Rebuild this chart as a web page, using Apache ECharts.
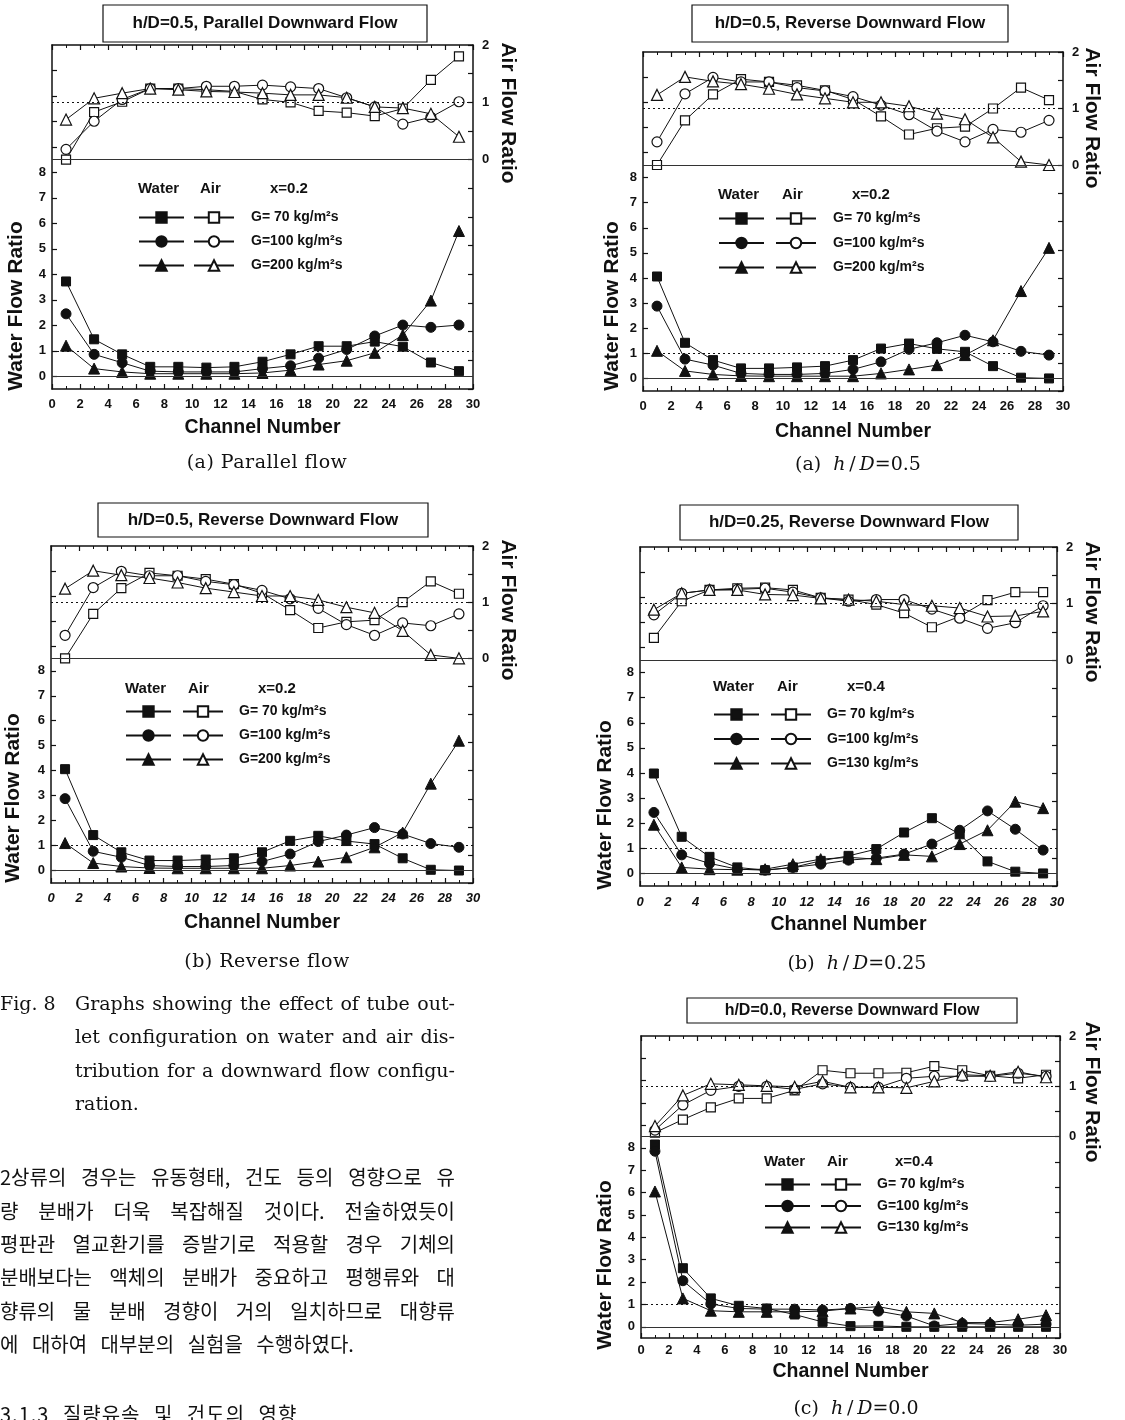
<!DOCTYPE html>
<html>
<head>
<meta charset="utf-8">
<script src="https://cdn.jsdelivr.net/npm/echarts@6/dist/echarts.min.js"></script>
<style>
  html, body { margin: 0; padding: 0; background: #fff; }
  #page { position: relative; width: 1125px; height: 1420px; overflow: hidden; }
  #chart { position: absolute; left: 0; top: 0; width: 1125px; height: 1420px; }
  .cap { position: absolute; font-family: 'DejaVu Serif', serif; font-size: 19px; color: #111;
         white-space: nowrap; transform: translate(-50%, -50%); line-height: 24px; }
  .line { position: absolute; height: 33px; line-height: 33px; color: #111; white-space: normal;
          text-align: justify; text-align-last: justify; }
  .en { font-family: 'DejaVu Serif', serif; font-size: 19px; left: 75px; width: 380px; }
  .ko { font-family: 'Noto Sans CJK KR', sans-serif; font-size: 20px; left: 0; width: 455px; }
</style>
</head>
<body>
<div id="page">
  <div id="chart"></div>

  <div class="cap" style="left:267px; top:461px; letter-spacing:0.5px">(a) Parallel flow</div>
  <div class="cap" style="left:858px; top:463px">(a)&nbsp; <i>h</i>&thinsp;/&thinsp;<i>D</i>=0.5</div>
  <div class="cap" style="left:267px; top:960px; letter-spacing:0.5px">(b) Reverse flow</div>
  <div class="cap" style="left:857px; top:962px">(b)&nbsp; <i>h</i>&thinsp;/&thinsp;<i>D</i>=0.25</div>
  <div class="cap" style="left:856px; top:1407px">(c)&nbsp; <i>h</i>&thinsp;/&thinsp;<i>D</i>=0.0</div>

  <div class="line en" style="left:0; width:60px; top:987px; text-align:left; text-align-last:left">Fig. 8</div>
  <div class="line en" style="top:987px">Graphs showing the effect of tube out-</div>
  <div class="line en" style="top:1020px">let configuration on water and air dis-</div>
  <div class="line en" style="top:1054px">tribution for a downward flow configu-</div>
  <div class="line en" style="top:1087px; text-align:left; text-align-last:left">ration.</div>

  <div class="line ko" style="top:1160px">2상류의 경우는 유동형태, 건도 등의 영향으로 유</div>
  <div class="line ko" style="top:1194px">량 분배가 더욱 복잡해질 것이다. 전술하였듯이</div>
  <div class="line ko" style="top:1227px">평판관 열교환기를 증발기로 적용할 경우 기체의</div>
  <div class="line ko" style="top:1260px">분배보다는 액체의 분배가 중요하고 평행류와 대</div>
  <div class="line ko" style="top:1294px">향류의 물 분배 경향이 거의 일치하므로 대향류</div>
  <div class="line ko" style="top:1327px; text-align:left; text-align-last:left; word-spacing:9px">에 대하여 대부분의 실험을 수행하였다.</div>
  <div class="line ko" style="top:1397px; text-align:left; text-align-last:left; letter-spacing:1px; word-spacing:8px">3.1.3 질량유속 및 건도의 영향</div>
</div>

<script>
const FONT = '"Liberation Sans", Arial, sans-serif';

// channel numbers (x)
const channels = [1, 3, 5, 7, 9, 11, 13, 15, 17, 19, 21, 23, 25, 27, 29];

// legend labels
const gLabels200 = ['G= 70 kg/m²s', 'G=100 kg/m²s', 'G=200 kg/m²s'];
const gLabels130 = ['G= 70 kg/m²s', 'G=100 kg/m²s', 'G=130 kg/m²s'];

// h/D=0.5, parallel downward flow, x=0.2
const parWater70  = [3.72, 1.45, 0.86, 0.37, 0.37, 0.34, 0.37, 0.57, 0.86, 1.18, 1.18, 1.36, 1.16, 0.54, 0.20];
const parWater100 = [2.45, 0.86, 0.53, 0.20, 0.17, 0.17, 0.17, 0.30, 0.41, 0.71, 1.05, 1.58, 2.01, 1.92, 2.01];
const parWater200 = [1.20, 0.30, 0.17, 0.10, 0.10, 0.10, 0.10, 0.13, 0.24, 0.46, 0.61, 0.92, 1.62, 2.97, 5.70];
const parAir70    = [0.00, 0.83, 1.01, 1.24, 1.24, 1.22, 1.19, 1.05, 1.00, 0.85, 0.82, 0.76, 0.89, 1.39, 1.80];
const parAir100   = [0.18, 0.67, 1.05, 1.24, 1.24, 1.28, 1.28, 1.30, 1.27, 1.24, 1.08, 0.92, 0.62, 0.74, 1.01];
const parAir200   = [0.70, 1.07, 1.16, 1.24, 1.22, 1.19, 1.18, 1.16, 1.13, 1.13, 1.08, 0.92, 0.90, 0.80, 0.40];

// h/D=0.5, reverse downward flow, x=0.2 (shown twice)
const rev05Water70  = [4.06, 1.42, 0.73, 0.40, 0.40, 0.44, 0.49, 0.73, 1.19, 1.39, 1.18, 1.06, 0.49, 0.03, 0.00];
const rev05Water100 = [2.88, 0.77, 0.53, 0.20, 0.16, 0.16, 0.20, 0.36, 0.66, 1.16, 1.42, 1.72, 1.46, 1.08, 0.93];
const rev05Water200 = [1.10, 0.30, 0.16, 0.10, 0.09, 0.09, 0.09, 0.09, 0.20, 0.36, 0.53, 0.93, 1.52, 3.48, 5.20];
const rev05Air70    = [0.00, 0.79, 1.25, 1.52, 1.47, 1.41, 1.32, 1.16, 0.86, 0.54, 0.65, 0.68, 1.00, 1.37, 1.15];
const rev05Air100   = [0.41, 1.26, 1.55, 1.47, 1.47, 1.37, 1.31, 1.21, 1.06, 0.89, 0.60, 0.41, 0.63, 0.58, 0.79];
const rev05Air200   = [1.24, 1.56, 1.48, 1.43, 1.35, 1.25, 1.18, 1.11, 1.11, 1.04, 0.91, 0.81, 0.49, 0.06, 0.00];

// h/D=0.25, reverse downward flow, x=0.4
const rev025Water70  = [3.98, 1.46, 0.66, 0.24, 0.13, 0.24, 0.50, 0.70, 0.97, 1.63, 2.20, 1.56, 0.48, 0.07, 0.00];
const rev025Water100 = [2.43, 0.74, 0.40, 0.17, 0.13, 0.24, 0.37, 0.53, 0.61, 0.77, 1.17, 1.72, 2.49, 1.76, 0.93];
const rev025Water130 = [1.94, 0.24, 0.17, 0.15, 0.17, 0.37, 0.57, 0.64, 0.57, 0.74, 0.68, 1.17, 1.72, 2.86, 2.60];
const rev025Air70    = [0.39, 1.04, 1.24, 1.27, 1.28, 1.24, 1.10, 1.07, 0.98, 0.83, 0.58, 0.77, 1.06, 1.20, 1.20];
const rev025Air100   = [0.80, 1.18, 1.24, 1.25, 1.27, 1.20, 1.10, 1.04, 1.07, 1.07, 0.90, 0.74, 0.56, 0.66, 0.96];
const rev025Air130   = [0.89, 1.18, 1.24, 1.24, 1.16, 1.15, 1.09, 1.07, 1.04, 0.98, 0.96, 0.92, 0.77, 0.78, 0.86];

// h/D=0.0, reverse downward flow, x=0.4
const rev00Water70  = [8.15, 2.62, 1.27, 0.94, 0.82, 0.55, 0.22, 0.03, 0.04, 0.00, 0.00, 0.00, 0.00, 0.00, 0.00];
const rev00Water100 = [7.85, 2.06, 1.02, 0.82, 0.79, 0.79, 0.75, 0.82, 0.70, 0.48, 0.04, 0.15, 0.12, 0.07, 0.12];
const rev00Water130 = [6.05, 1.27, 0.72, 0.67, 0.67, 0.67, 0.70, 0.82, 0.90, 0.67, 0.60, 0.19, 0.19, 0.34, 0.52];
const rev00Air70    = [0.08, 0.34, 0.58, 0.76, 0.76, 0.92, 1.32, 1.26, 1.26, 1.27, 1.40, 1.32, 1.21, 1.16, 1.23];
const rev00Air100   = [0.13, 0.63, 0.92, 1.00, 1.00, 0.94, 1.05, 0.98, 0.98, 1.16, 1.20, 1.20, 1.20, 1.26, 1.20];
const rev00Air130   = [0.21, 0.82, 1.05, 1.03, 1.01, 0.99, 1.10, 0.98, 0.98, 0.97, 1.10, 1.23, 1.21, 1.29, 1.18];

const waterTicks = [0, 1, 2, 3, 4, 5, 6, 7, 8, 9, 10, 11, 12];
const waterLabels = [0, 1, 2, 3, 4, 5, 6, 7, 8];
const airLabels = [0, 1, 2];

// panel layout (page pixels)
const panels = [
  { title: 'h/D=0.5, Parallel Downward Flow', quality: 'x=0.2', names: gLabels200,
    water: [parWater70, parWater100, parWater200], air: [parAir70, parAir100, parAir200],
    grid: { left: 52, top: 45, width: 421, height: 344 }, box: [103, 5, 324, 37], titleSize: 17,
    italic: false, labelMargin: 9, nameGap: 29, waterName: [16, 306], airName: [508, 113],
    leg: { waterX: 138, airX: 193, textX: 250, airHeadX: 200, qX: 270, headY: 189, rowY: 217, pitch: 23 } },
  { title: 'h/D=0.5, Reverse Downward Flow', quality: 'x=0.2', names: gLabels200,
    water: [rev05Water70, rev05Water100, rev05Water200], air: [rev05Air70, rev05Air100, rev05Air200],
    grid: { left: 643, top: 52, width: 420, height: 339 }, box: [692, 5, 316, 37], titleSize: 17,
    italic: false, labelMargin: 9, nameGap: 31, waterName: [612, 306], airName: [1092, 118],
    leg: { waterX: 718, airX: 775, textX: 832, airHeadX: 782, qX: 852, headY: 195, rowY: 218, pitch: 23.5 } },
  { title: 'h/D=0.5, Reverse Downward Flow', quality: 'x=0.2', names: gLabels200,
    water: [rev05Water70, rev05Water100, rev05Water200], air: [rev05Air70, rev05Air100, rev05Air200],
    grid: { left: 51, top: 546, width: 422, height: 337 }, box: [98, 503, 330, 34], titleSize: 17,
    italic: true, labelMargin: 9, nameGap: 30, waterName: [13, 798], airName: [508, 610],
    leg: { waterX: 125, airX: 182, textX: 238, airHeadX: 188, qX: 258, headY: 689, rowY: 711, pitch: 23 } },
  { title: 'h/D=0.25, Reverse Downward Flow', quality: 'x=0.4', names: gLabels130,
    water: [rev025Water70, rev025Water100, rev025Water130], air: [rev025Air70, rev025Air100, rev025Air130],
    grid: { left: 640, top: 547, width: 417, height: 339 }, box: [680, 505, 338, 35], titleSize: 17,
    italic: true, labelMargin: 10, nameGap: 29, waterName: [605, 805], airName: [1092, 612],
    leg: { waterX: 713, airX: 770, textX: 826, airHeadX: 777, qX: 847, headY: 687, rowY: 714, pitch: 23.5 } },
  { title: 'h/D=0.0, Reverse Downward Flow', quality: 'x=0.4', names: gLabels130,
    water: [rev00Water70, rev00Water100, rev00Water130], air: [rev00Air70, rev00Air100, rev00Air130],
    grid: { left: 641, top: 1036, width: 419, height: 302 }, box: [687, 998, 330, 25], titleSize: 16,
    italic: false, labelMargin: 6, nameGap: 24, waterName: [605, 1265], airName: [1092, 1092],
    leg: { waterX: 764, airX: 820, textX: 876, airHeadX: 827, qX: 895, headY: 1162, rowY: 1184, pitch: 20.5 } },
];

const symbols = ['rect', 'circle', 'triangle'];
const symSizes = [9, 10, 11];
const INK = '#111';

const option = {
  animation: false,
  grid: [], xAxis: [], yAxis: [], series: [], legend: [], graphic: [],
};

panels.forEach((p, i) => {
  option.grid.push(Object.assign({ show: false }, p.grid));

  const xCommon = {
    gridIndex: i, type: 'value', min: 0, max: 30, interval: 2,
    axisLine: { onZero: false, lineStyle: { color: INK, width: 1.5 } },
    axisTick: { inside: true, length: 5, lineStyle: { color: INK, width: 1.2 } },
    minorTick: { show: true, splitNumber: 2, length: 3, lineStyle: { color: INK, width: 1 } },
    splitLine: { show: false },
  };
  option.xAxis.push(Object.assign({}, xCommon, {
    position: 'bottom',
    axisLabel: { color: INK, fontFamily: FONT, fontWeight: 'bold', fontSize: 13,
                 fontStyle: p.italic ? 'italic' : 'normal', margin: p.labelMargin },
    name: 'Channel Number', nameLocation: 'middle', nameGap: p.nameGap,
    nameTextStyle: { color: INK, fontFamily: FONT, fontWeight: 'bold', fontSize: 19.5 },
  }));
  option.xAxis.push(Object.assign({}, xCommon, { position: 'top', axisLabel: { show: false } }));

  option.yAxis.push({
    gridIndex: i, type: 'value', min: -0.5, max: 13, position: 'left',
    axisLine: { onZero: false, lineStyle: { color: INK, width: 1.5 } },
    axisTick: { inside: true, length: 5, customValues: waterTicks, lineStyle: { color: INK, width: 1.2 } },
    axisLabel: { customValues: waterLabels, color: INK, fontFamily: FONT, fontWeight: 'bold', fontSize: 13, margin: 6 },
    splitLine: { show: false },
  });
  option.yAxis.push({
    gridIndex: i, type: 'value', min: -4, max: 2, interval: 0.5, position: 'right',
    axisLine: { onZero: false, lineStyle: { color: INK, width: 1.5 } },
    axisTick: { inside: true, length: 5, lineStyle: { color: INK, width: 1.2 } },
    axisLabel: { customValues: airLabels, color: INK, fontFamily: FONT, fontWeight: 'bold', fontSize: 13, margin: 9 },
    splitLine: { show: false },
  });

  const refLines = () => ({
    silent: true, symbol: ['none', 'none'], label: { show: false }, animation: false,
    data: [
      { yAxis: 1, lineStyle: { type: [2, 3], color: INK, width: 1 } },
      { yAxis: 0, lineStyle: { type: 'solid', color: '#333', width: 1 } },
    ],
  });

  for (let k = 0; k < 3; k++) {
    option.series.push({
      type: 'line', name: 'Water ' + p.names[k], xAxisIndex: 2 * i, yAxisIndex: 2 * i,
      data: channels.map((ch, j) => [ch, p.water[k][j]]),
      symbol: symbols[k], symbolSize: symSizes[k],
      itemStyle: { color: INK, borderColor: INK, borderWidth: 1 },
      lineStyle: { color: INK, width: 1 },
      markLine: k === 0 ? refLines() : undefined,
      z: 3,
    });
    option.series.push({
      type: 'line', name: p.names[k], xAxisIndex: 2 * i, yAxisIndex: 2 * i + 1,
      data: channels.map((ch, j) => [ch, p.air[k][j]]),
      symbol: symbols[k], symbolSize: symSizes[k],
      itemStyle: { color: '#fff', borderColor: INK, borderWidth: 1.2 },
      lineStyle: { color: INK, width: 1 },
      markLine: k === 0 ? refLines() : undefined,
      z: 3,
    });
  }

  // two legend columns: filled (water) icons without text, open (air) icons with the G label
  const L = p.leg;
  const legText = { color: INK, fontFamily: FONT, fontWeight: 'bold', fontSize: 14, lineHeight: 13 };
  option.legend.push({
    data: p.names.map(n => 'Water ' + n), orient: 'vertical', selectedMode: false,
    left: L.waterX, top: L.rowY - 6.5, padding: 0,
    itemWidth: 45, itemHeight: 13, itemGap: L.pitch - 13,
    formatter: () => ' ', textStyle: legText,
  });
  option.legend.push({
    data: p.names, orient: 'vertical', selectedMode: false,
    left: L.airX, top: L.rowY - 6.5, padding: 0,
    itemWidth: 40, itemHeight: 13, itemGap: L.pitch - 13,
    textStyle: Object.assign({}, legText, { padding: [0, 0, 0, L.textX - L.airX - 45] }),
  });

  const hdr = (text, x) => ({
    type: 'text', x: x, y: L.headY,
    style: { text: text, font: 'bold 15px ' + FONT, fill: INK, textAlign: 'left', textVerticalAlign: 'middle' },
  });
  const b = p.box;
  option.graphic.push(
    { type: 'rect', shape: { x: b[0], y: b[1], width: b[2], height: b[3] },
      style: { fill: '#fff', stroke: INK, lineWidth: 1.2 } },
    { type: 'text', x: b[0] + b[2] / 2, y: b[1] + b[3] / 2,
      style: { text: p.title, font: 'bold ' + p.titleSize + 'px ' + FONT, fill: INK,
               textAlign: 'center', textVerticalAlign: 'middle' } },
    { type: 'text', x: p.waterName[0], y: p.waterName[1], rotation: Math.PI / 2,
      style: { text: 'Water Flow Ratio', font: 'bold 21px ' + FONT, fill: INK,
               textAlign: 'center', textVerticalAlign: 'middle' } },
    { type: 'text', x: p.airName[0], y: p.airName[1], rotation: -Math.PI / 2,
      style: { text: 'Air Flow Ratio', font: 'bold 21px ' + FONT, fill: INK,
               textAlign: 'center', textVerticalAlign: 'middle' } },
    hdr('Water', L.waterX), hdr('Air', L.airHeadX), hdr(p.quality, L.qX)
  );
});

const chart = echarts.init(document.getElementById('chart'), null, { renderer: 'canvas' });
chart.setOption(option);
</script>
</body>
</html>
